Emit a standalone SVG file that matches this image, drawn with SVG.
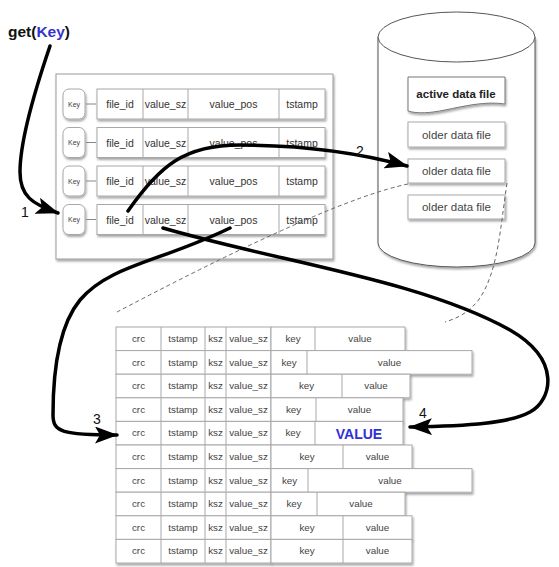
<svg xmlns="http://www.w3.org/2000/svg" width="559" height="567" viewBox="0 0 559 567">
<style>
  text { font-family: "Liberation Sans", Arial, sans-serif; fill: #333; }
  .cell { fill: #fff; stroke: #a8a8a8; stroke-width: 1; }
  .panel { fill: #fff; stroke: #999; stroke-width: 1; }
  .t { font-size: 10.5px; text-anchor: middle; }
  .f { font-size: 11.5px; text-anchor: middle; fill: #444; }
  .s { font-size: 9.8px; text-anchor: middle; fill: #444; }
  .k { font-size: 7px; text-anchor: middle; fill: #444; }
  .num { font-size: 14px; text-anchor: middle; fill: #111; }
  .arrow { fill: none; stroke: #000; stroke-width: 3.5; stroke-linecap: round; }
  .dash { fill: none; stroke: #666; stroke-width: 1; stroke-dasharray: 4 3; }
</style>
<defs>
  <filter id="sh" x="-10%" y="-10%" width="130%" height="140%">
    <feDropShadow dx="1" dy="2" stdDeviation="1.3" flood-color="#000" flood-opacity="0.35"/>
  </filter>
  <marker id="ah" markerUnits="userSpaceOnUse" markerWidth="23" markerHeight="17" refX="22" refY="8.5" orient="auto">
    <path d="M0,0 L23,8.5 L0,17 L5,8.5 Z" fill="#000"/>
  </marker>
</defs>

<g id="get-key">
  <text x="8" y="37" style="font-size:15.5px;font-weight:bold;fill:#111">get(<tspan style="fill:#3434d0">Key</tspan>)</text>
</g>

<g id="keydir">
  <rect class="panel" x="56" y="74" width="277" height="185" filter="url(#sh)"/>
  <g id="keydir-row1">
    <rect class="cell" x="63" y="89" width="22" height="30" rx="6" filter="url(#sh)"/>
    <text class="k" x="74" y="106.5">Key</text>
    <line x1="86" y1="104" x2="96" y2="104" stroke="#888"/>
    <rect class="cell" x="97" y="89" width="228" height="30" filter="url(#sh)"/>
    <line x1="143" y1="89" x2="143" y2="119" stroke="#a8a8a8"/>
    <line x1="188" y1="89" x2="188" y2="119" stroke="#a8a8a8"/>
    <line x1="279" y1="89" x2="279" y2="119" stroke="#a8a8a8"/>
    <text class="t" x="120" y="108">file_id</text>
    <text class="t" x="165.5" y="108">value_sz</text>
    <text class="t" x="233.5" y="108">value_pos</text>
    <text class="t" x="302" y="108">tstamp</text>
  </g>
  <g id="keydir-row2">
    <rect class="cell" x="63" y="127.5" width="22" height="30" rx="6" filter="url(#sh)"/>
    <text class="k" x="74" y="145">Key</text>
    <line x1="86" y1="142.5" x2="96" y2="142.5" stroke="#888"/>
    <rect class="cell" x="97" y="127.5" width="228" height="30" filter="url(#sh)"/>
    <line x1="143" y1="127.5" x2="143" y2="157.5" stroke="#a8a8a8"/>
    <line x1="188" y1="127.5" x2="188" y2="157.5" stroke="#a8a8a8"/>
    <line x1="279" y1="127.5" x2="279" y2="157.5" stroke="#a8a8a8"/>
    <text class="t" x="120" y="146.5">file_id</text>
    <text class="t" x="165.5" y="146.5">value_sz</text>
    <text class="t" x="233.5" y="146.5">value_pos</text>
    <text class="t" x="302" y="146.5">tstamp</text>
  </g>
  <g id="keydir-row3">
    <rect class="cell" x="63" y="166" width="22" height="30" rx="6" filter="url(#sh)"/>
    <text class="k" x="74" y="183.5">Key</text>
    <line x1="86" y1="181" x2="96" y2="181" stroke="#888"/>
    <rect class="cell" x="97" y="166" width="228" height="30" filter="url(#sh)"/>
    <line x1="143" y1="166" x2="143" y2="196" stroke="#a8a8a8"/>
    <line x1="188" y1="166" x2="188" y2="196" stroke="#a8a8a8"/>
    <line x1="279" y1="166" x2="279" y2="196" stroke="#a8a8a8"/>
    <text class="t" x="120" y="185">file_id</text>
    <text class="t" x="165.5" y="185">value_sz</text>
    <text class="t" x="233.5" y="185">value_pos</text>
    <text class="t" x="302" y="185">tstamp</text>
  </g>
  <g id="keydir-row4">
    <rect class="cell" x="63" y="204.5" width="22" height="30" rx="6" filter="url(#sh)"/>
    <text class="k" x="74" y="222">Key</text>
    <line x1="86" y1="219.5" x2="96" y2="219.5" stroke="#888"/>
    <rect class="cell" x="97" y="204.5" width="228" height="30" filter="url(#sh)"/>
    <line x1="143" y1="204.5" x2="143" y2="234.5" stroke="#a8a8a8"/>
    <line x1="188" y1="204.5" x2="188" y2="234.5" stroke="#a8a8a8"/>
    <line x1="279" y1="204.5" x2="279" y2="234.5" stroke="#a8a8a8"/>
    <text class="t" x="120" y="223.5">file_id</text>
    <text class="t" x="165.5" y="223.5">value_sz</text>
    <text class="t" x="233.5" y="223.5">value_pos</text>
    <text class="t" x="302" y="223.5">tstamp</text>
  </g>
</g>

<g id="disk">
  <path d="M378,37 L378,243 A78.5,24 0 0 0 535,243 L535,37" fill="#fff" stroke="#555" stroke-width="1" filter="url(#sh)"/>
  <ellipse cx="456.5" cy="37" rx="78.5" ry="25" fill="#fff" stroke="#555" stroke-width="1"/>
  <g id="active-file">
    <path d="M408,77 H505 V104 C 485,101 465,106 445,110 C 430,113 418,114 408,111 Z" fill="#fff" stroke="#777" filter="url(#sh)"/>
    <text x="456" y="97.5" style="font-size:11.5px;font-weight:bold;text-anchor:middle;fill:#222">active data file</text>
  </g>
  <g id="older-file-1">
    <rect class="cell" x="408" y="122" width="97" height="25" stroke="#777" filter="url(#sh)"/>
    <text class="f" x="456.5" y="138.5">older data file</text>
  </g>
  <g id="older-file-2">
    <rect class="cell" x="408" y="159" width="97" height="24" stroke="#777" filter="url(#sh)"/>
    <text class="f" x="456.5" y="175">older data file</text>
  </g>
  <g id="older-file-3">
    <rect class="cell" x="408" y="195" width="97" height="24" stroke="#777" filter="url(#sh)"/>
    <text class="f" x="456.5" y="211">older data file</text>
  </g>
</g>

<g id="datafile">
  <g id="entry1">
    <rect class="cell" x="116" y="327" width="155" height="23.6"/>
    <rect class="cell" x="271" y="327" width="134" height="23.6" filter="url(#sh)"/>
    <line x1="161" y1="327" x2="161" y2="350.6" stroke="#a8a8a8"/><line x1="205" y1="327" x2="205" y2="350.6" stroke="#a8a8a8"/><line x1="226" y1="327" x2="226" y2="350.6" stroke="#a8a8a8"/><line x1="315" y1="327" x2="315" y2="350.6" stroke="#a8a8a8"/>
    <text class="s" x="138.5" y="342">crc</text><text class="s" x="183" y="342">tstamp</text><text class="s" x="215.5" y="342">ksz</text><text class="s" x="248.5" y="342">value_sz</text><text class="s" x="293" y="342">key</text><text class="s" x="360" y="342">value</text>
  </g>
  <g id="entry2">
    <rect class="cell" x="116" y="350.6" width="155" height="23.6"/>
    <rect class="cell" x="271" y="350.6" width="201" height="23.6" filter="url(#sh)"/>
    <line x1="161" y1="350.6" x2="161" y2="374.2" stroke="#a8a8a8"/><line x1="205" y1="350.6" x2="205" y2="374.2" stroke="#a8a8a8"/><line x1="226" y1="350.6" x2="226" y2="374.2" stroke="#a8a8a8"/><line x1="307" y1="350.6" x2="307" y2="374.2" stroke="#a8a8a8"/>
    <text class="s" x="138.5" y="365.6">crc</text><text class="s" x="183" y="365.6">tstamp</text><text class="s" x="215.5" y="365.6">ksz</text><text class="s" x="248.5" y="365.6">value_sz</text><text class="s" x="289" y="365.6">key</text><text class="s" x="389.5" y="365.6">value</text>
  </g>
  <g id="entry3">
    <rect class="cell" x="116" y="374.2" width="155" height="23.6"/>
    <rect class="cell" x="271" y="374.2" width="139" height="23.6" filter="url(#sh)"/>
    <line x1="161" y1="374.2" x2="161" y2="397.8" stroke="#a8a8a8"/><line x1="205" y1="374.2" x2="205" y2="397.8" stroke="#a8a8a8"/><line x1="226" y1="374.2" x2="226" y2="397.8" stroke="#a8a8a8"/><line x1="342" y1="374.2" x2="342" y2="397.8" stroke="#a8a8a8"/>
    <text class="s" x="138.5" y="389.2">crc</text><text class="s" x="183" y="389.2">tstamp</text><text class="s" x="215.5" y="389.2">ksz</text><text class="s" x="248.5" y="389.2">value_sz</text><text class="s" x="306.5" y="389.2">key</text><text class="s" x="376" y="389.2">value</text>
  </g>
  <g id="entry4">
    <rect class="cell" x="116" y="397.8" width="155" height="23.6"/>
    <rect class="cell" x="271" y="397.8" width="132" height="23.6" filter="url(#sh)"/>
    <line x1="161" y1="397.8" x2="161" y2="421.4" stroke="#a8a8a8"/><line x1="205" y1="397.8" x2="205" y2="421.4" stroke="#a8a8a8"/><line x1="226" y1="397.8" x2="226" y2="421.4" stroke="#a8a8a8"/><line x1="316" y1="397.8" x2="316" y2="421.4" stroke="#a8a8a8"/>
    <text class="s" x="138.5" y="412.8">crc</text><text class="s" x="183" y="412.8">tstamp</text><text class="s" x="215.5" y="412.8">ksz</text><text class="s" x="248.5" y="412.8">value_sz</text><text class="s" x="293.5" y="412.8">key</text><text class="s" x="359.5" y="412.8">value</text>
  </g>
  <g id="entry5">
    <rect class="cell" x="116" y="421.4" width="155" height="23.6"/>
    <rect class="cell" x="271" y="421.4" width="132" height="23.6" filter="url(#sh)"/>
    <line x1="161" y1="421.4" x2="161" y2="445" stroke="#a8a8a8"/><line x1="205" y1="421.4" x2="205" y2="445" stroke="#a8a8a8"/><line x1="226" y1="421.4" x2="226" y2="445" stroke="#a8a8a8"/><line x1="315" y1="421.4" x2="315" y2="445" stroke="#a8a8a8"/>
    <text class="s" x="138.5" y="436.4">crc</text><text class="s" x="183" y="436.4">tstamp</text><text class="s" x="215.5" y="436.4">ksz</text><text class="s" x="248.5" y="436.4">value_sz</text><text class="s" x="293" y="436.4">key</text>
    <text x="359" y="439" style="font-size:14px;font-weight:bold;text-anchor:middle;fill:#3030d8">VALUE</text>
  </g>
  <g id="entry6">
    <rect class="cell" x="116" y="445" width="155" height="23.6"/>
    <rect class="cell" x="271" y="445" width="141" height="23.6" filter="url(#sh)"/>
    <line x1="161" y1="445" x2="161" y2="468.6" stroke="#a8a8a8"/><line x1="205" y1="445" x2="205" y2="468.6" stroke="#a8a8a8"/><line x1="226" y1="445" x2="226" y2="468.6" stroke="#a8a8a8"/><line x1="343" y1="445" x2="343" y2="468.6" stroke="#a8a8a8"/>
    <text class="s" x="138.5" y="460">crc</text><text class="s" x="183" y="460">tstamp</text><text class="s" x="215.5" y="460">ksz</text><text class="s" x="248.5" y="460">value_sz</text><text class="s" x="307" y="460">key</text><text class="s" x="377.5" y="460">value</text>
  </g>
  <g id="entry7">
    <rect class="cell" x="116" y="468.6" width="155" height="23.6"/>
    <rect class="cell" x="271" y="468.6" width="201" height="23.6" filter="url(#sh)"/>
    <line x1="161" y1="468.6" x2="161" y2="492.2" stroke="#a8a8a8"/><line x1="205" y1="468.6" x2="205" y2="492.2" stroke="#a8a8a8"/><line x1="226" y1="468.6" x2="226" y2="492.2" stroke="#a8a8a8"/><line x1="308" y1="468.6" x2="308" y2="492.2" stroke="#a8a8a8"/>
    <text class="s" x="138.5" y="483.6">crc</text><text class="s" x="183" y="483.6">tstamp</text><text class="s" x="215.5" y="483.6">ksz</text><text class="s" x="248.5" y="483.6">value_sz</text><text class="s" x="289.5" y="483.6">key</text><text class="s" x="390" y="483.6">value</text>
  </g>
  <g id="entry8">
    <rect class="cell" x="116" y="492.2" width="155" height="23.6"/>
    <rect class="cell" x="271" y="492.2" width="134" height="23.6" filter="url(#sh)"/>
    <line x1="161" y1="492.2" x2="161" y2="515.8" stroke="#a8a8a8"/><line x1="205" y1="492.2" x2="205" y2="515.8" stroke="#a8a8a8"/><line x1="226" y1="492.2" x2="226" y2="515.8" stroke="#a8a8a8"/><line x1="317" y1="492.2" x2="317" y2="515.8" stroke="#a8a8a8"/>
    <text class="s" x="138.5" y="507.2">crc</text><text class="s" x="183" y="507.2">tstamp</text><text class="s" x="215.5" y="507.2">ksz</text><text class="s" x="248.5" y="507.2">value_sz</text><text class="s" x="294" y="507.2">key</text><text class="s" x="361" y="507.2">value</text>
  </g>
  <g id="entry9">
    <rect class="cell" x="116" y="515.8" width="155" height="23.6"/>
    <rect class="cell" x="271" y="515.8" width="141" height="23.6" filter="url(#sh)"/>
    <line x1="161" y1="515.8" x2="161" y2="539.4" stroke="#a8a8a8"/><line x1="205" y1="515.8" x2="205" y2="539.4" stroke="#a8a8a8"/><line x1="226" y1="515.8" x2="226" y2="539.4" stroke="#a8a8a8"/><line x1="343" y1="515.8" x2="343" y2="539.4" stroke="#a8a8a8"/>
    <text class="s" x="138.5" y="530.8">crc</text><text class="s" x="183" y="530.8">tstamp</text><text class="s" x="215.5" y="530.8">ksz</text><text class="s" x="248.5" y="530.8">value_sz</text><text class="s" x="307" y="530.8">key</text><text class="s" x="377.5" y="530.8">value</text>
  </g>
  <g id="entry10">
    <rect class="cell" x="116" y="539.4" width="155" height="23.6" filter="url(#sh)"/>
    <rect class="cell" x="271" y="539.4" width="141" height="23.6" filter="url(#sh)"/>
    <line x1="161" y1="539.4" x2="161" y2="563" stroke="#a8a8a8"/><line x1="205" y1="539.4" x2="205" y2="563" stroke="#a8a8a8"/><line x1="226" y1="539.4" x2="226" y2="563" stroke="#a8a8a8"/><line x1="343" y1="539.4" x2="343" y2="563" stroke="#a8a8a8"/>
    <text class="s" x="138.5" y="554.4">crc</text><text class="s" x="183" y="554.4">tstamp</text><text class="s" x="215.5" y="554.4">ksz</text><text class="s" x="248.5" y="554.4">value_sz</text><text class="s" x="307" y="554.4">key</text><text class="s" x="377.5" y="554.4">value</text>
  </g>
</g>

<g id="connectors">
  <path class="dash" d="M408,184 Q330,200 117,312"/>
  <path class="dash" d="M507,183 C500,230 498,270 480,298 C470,312 458,318 445,322"/>
  <path class="arrow" d="M50,46 C35,90 20,140 20,172 C20,196 32,204 58,213" marker-end="url(#ah)"/>
  <path class="arrow" d="M128,211 C160,165 185,145 240,145 C300,145 360,153 407,166" marker-end="url(#ah)"/>
  <path class="arrow" d="M230,228 C160,262 110,265 80,300 C57,328 53,380 53,415 C53,432 62,435 117,435" marker-end="url(#ah)"/>
  <path class="arrow" d="M163,228 C280,262 420,280 510,330 C562,360 552,400 530,412 C510,423 470,426 410,427" marker-end="url(#ah)"/>
  <text class="num" x="25" y="217">1</text>
  <text class="num" x="360" y="156">2</text>
  <text class="num" x="97" y="424">3</text>
  <text class="num" x="423" y="418">4</text>
</g>
</svg>
